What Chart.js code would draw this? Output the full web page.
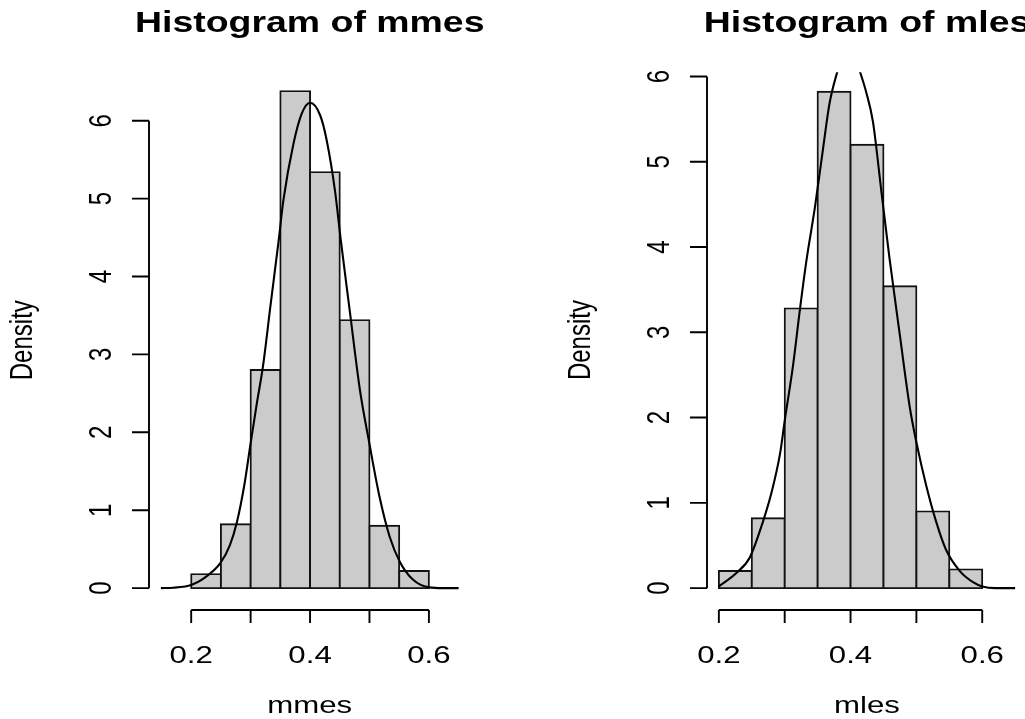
<!DOCTYPE html>
<html>
<head>
<meta charset="utf-8">
<script src="https://cdn.jsdelivr.net/npm/chart.js@4.4.1/dist/chart.umd.min.js"></script>
<style>
  html, body { margin: 0; padding: 0; background: #fff; overflow: hidden; }
  #wrap { position: relative; width: 1025px; height: 719px; overflow: hidden; }
  canvas { position: absolute; top: 0; }
</style>
</head>
<body>
<div id="wrap">
  <canvas id="left" width="512" height="719" style="left:0"></canvas>
  <canvas id="right" width="540" height="719" style="left:512px"></canvas>
</div>
<script>
// histogram breaks, same for both panels
const breaks = [0.20, 0.25, 0.30, 0.35, 0.40, 0.45, 0.50, 0.55, 0.60];
const xTicks = [0.2, 0.3, 0.4, 0.5, 0.6];
const xTickLabels = ['0.2', '', '0.4', '', '0.6'];
const yTicks = [0, 1, 2, 3, 4, 5, 6];
const yTickLabels = ['0', '1', '2', '3', '4', '5', '6'];

// bar heights (density)
const mmesHist = [0.18, 0.82, 2.80, 6.38, 5.34, 3.44, 0.80, 0.22];
const mlesHist = [0.20, 0.82, 3.28, 5.82, 5.20, 3.54, 0.90, 0.22];

// kernel density curves
const mmesKdeX = [0.149, 0.17, 0.19, 0.20, 0.22, 0.249, 0.265, 0.277, 0.29, 0.299, 0.31, 0.321, 0.333, 0.347, 0.355, 0.372, 0.386, 0.400,
  0.417, 0.428, 0.442, 0.452, 0.467, 0.484, 0.500, 0.517, 0.534, 0.551, 0.573, 0.600, 0.625, 0.650];
const mmesKdeY = [0.0, 0.005, 0.02, 0.04, 0.12, 0.32, 0.55, 0.85, 1.35, 1.81, 2.35, 2.86, 3.60, 4.45, 4.97, 5.70, 6.09, 6.23,
  6.07, 5.75, 5.10, 4.45, 3.55, 2.54, 1.85, 1.17, 0.66, 0.34, 0.11, 0.01, 0.0, 0.0];

const mlesKdeX = [0.200, 0.227, 0.247, 0.267, 0.280, 0.293, 0.300, 0.313, 0.323, 0.333, 0.346, 0.358, 0.368, 0.379, 0.388, 0.397,
  0.406, 0.415, 0.424, 0.434, 0.447, 0.459, 0.475, 0.490, 0.500, 0.515, 0.530, 0.545, 0.566, 0.586, 0.600, 0.620, 0.650];
const mlesKdeY = [0.02, 0.18, 0.36, 0.78, 1.12, 1.58, 1.96, 2.63, 3.26, 3.84, 4.47, 5.14, 5.68, 6.03, 6.24, 6.32,
  6.25, 6.04, 5.81, 5.47, 4.64, 3.88, 2.96, 2.12, 1.71, 1.20, 0.78, 0.45, 0.20, 0.07, 0.02, 0.0, 0.0];

const SX = 1.3;   // picture is stretched sideways
const FONT = '"Liberation Sans", Arial, sans-serif';

function drawText(ctx, txt, x, y, rotated) {
  ctx.save();
  ctx.translate(x, y);
  ctx.scale(SX, 1);
  if (rotated) ctx.rotate(-Math.PI / 2);
  ctx.fillText(txt, 0, 0);
  ctx.restore();
}

const rAxes = {
  id: 'rAxes',
  afterDraw(chart, args, opts) {
    const ctx = chart.ctx;
    const ca = chart.chartArea;
    const xs = chart.scales.x, ys = chart.scales.y;
    ctx.save();
    ctx.strokeStyle = '#000';
    ctx.fillStyle = '#000';
    ctx.lineWidth = 1.9;

    // y axis
    const ax = ca.left;
    ctx.beginPath();
    ctx.moveTo(ax, ys.getPixelForValue(yTicks[0]));
    ctx.lineTo(ax, ys.getPixelForValue(yTicks[yTicks.length - 1]));
    yTicks.forEach(v => {
      const py = ys.getPixelForValue(v);
      ctx.moveTo(ax, py);
      ctx.lineTo(ax - 17, py);
    });
    ctx.stroke();

    // x axis
    const ay = ca.bottom + 2;
    ctx.beginPath();
    ctx.moveTo(xs.getPixelForValue(xTicks[0]), ay);
    ctx.lineTo(xs.getPixelForValue(xTicks[xTicks.length - 1]), ay);
    xTicks.forEach(v => {
      const px = xs.getPixelForValue(v);
      ctx.moveTo(px, ay);
      ctx.lineTo(px, ay + 13);
    });
    ctx.stroke();

    ctx.font = '24px ' + FONT;
    ctx.textAlign = 'center';
    ctx.textBaseline = 'alphabetic';
    xTicks.forEach((v, i) => {
      if (xTickLabels[i]) drawText(ctx, xTickLabels[i], xs.getPixelForValue(v), ca.bottom + 55, false);
    });
    yTicks.forEach((v, i) => {
      drawText(ctx, yTickLabels[i], ax - 38, ys.getPixelForValue(v), true);
    });

    const cx = (ca.left + ca.right) / 2;
    drawText(ctx, opts.xlab, cx, ca.bottom + 105, false);
    drawText(ctx, 'Density', ax - 117, (ca.top + ca.bottom) / 2, true);

    ctx.font = 'bold 28.8px ' + FONT;
    drawText(ctx, opts.title, cx, ca.top - 40, false);
    ctx.restore();
  }
};

function makePanel(id, hist, kdeX, kdeY, xMin, xMax, yMin, yMax, pad, title, xlab) {
  const mids = hist.map((h, i) => (breaks[i] + breaks[i + 1]) / 2);
  new Chart(document.getElementById(id), {
    type: 'bar',
    data: {
      datasets: [{
        type: 'line',
        data: kdeX.map((x, i) => ({ x: x, y: kdeY[i] })),
        borderColor: '#000',
        borderWidth: 2.1,
        pointRadius: 0,
        fill: false,
        cubicInterpolationMode: 'monotone',
        order: 0
      }, {
        type: 'bar',
        data: mids.map((m, i) => ({ x: m, y: hist[i] })),
        backgroundColor: '#cbcbcb',
        borderColor: '#111',
        borderWidth: 1.9,
        borderSkipped: false,
        inflateAmount: 0.95,
        barPercentage: 1,
        categoryPercentage: 1,
        order: 1
      }]
    },
    options: {
      responsive: false,
      animation: false,
      layout: { padding: pad },
      plugins: {
        legend: { display: false },
        tooltip: { enabled: false },
        rAxes: { title: title, xlab: xlab }
      },
      scales: {
        x: { type: 'linear', min: xMin, max: xMax, offset: false, display: false },
        y: { type: 'linear', min: yMin, max: yMax, display: false }
      }
    },
    plugins: [rAxes]
  });
}

makePanel('left', mmesHist, mmesKdeX, mmesKdeY, 0.129, 0.67, -0.255, 6.62,
  { left: 149, right: 41.5, top: 72.4, bottom: 111 }, 'Histogram of mmes', 'mmes');
makePanel('right', mlesHist, mlesKdeX, mlesKdeY, 0.182, 0.668, -0.233, 6.05,
  { left: 195, right: 25, top: 72.2, bottom: 111 }, 'Histogram of mles', 'mles');
</script>
</body>
</html>
